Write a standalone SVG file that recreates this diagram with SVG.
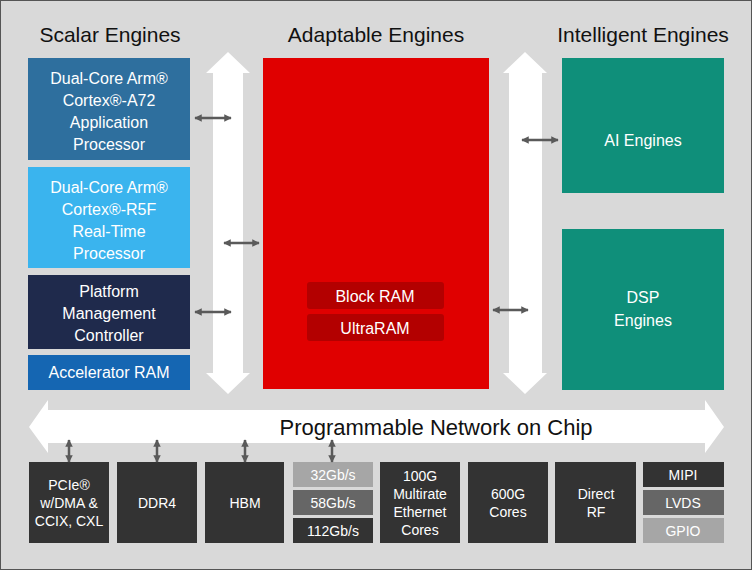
<svg xmlns="http://www.w3.org/2000/svg" width="752" height="570" viewBox="0 0 752 570">
<defs>
<marker id="ah" viewBox="0 0 10 10" refX="9" refY="5" markerWidth="3" markerHeight="3" orient="auto-start-reverse"><path d="M0,0L10,5L0,10z" fill="#5a5a5a"/></marker>
</defs>
<style>
text{font-family:"Liberation Sans",Arial,sans-serif;fill:#fff;text-anchor:middle}
.t{font-size:21px;fill:#111}
.n{font-size:16px}
.s{font-size:14px}
.c{stroke:#5a5a5a;stroke-width:2.5;fill:none;marker-start:url(#ah);marker-end:url(#ah)}
.bus{fill:#fff}
.d{fill:#333}
</style>
<rect x="0.5" y="0.5" width="751" height="569" fill="#d9d9d9" stroke="#555"/>
<text class="t" x="110" y="42">Scalar Engines</text>
<text class="t" x="376" y="42">Adaptable Engines</text>
<text class="t" x="643" y="42">Intelligent Engines</text>
<g id="buses">
<path class="bus" d="M228,52L250,73H243V373H250L228,394L206,373H213V73H206Z"/>
<path class="bus" d="M525,52L547,73H542V373H547L525,394L503,373H509V73H503Z"/>
<path class="bus" d="M29,427L48,400V410H705V400L724,427L705,453V443H48V453Z"/>
<text x="436" y="435" style="font-size:22px;fill:#111">Programmable Network on Chip</text>
</g>
<g id="a72"><rect x="28" y="58" width="162" height="102" fill="#2e6f9e"/><text class="n" x="109" y="84">Dual-Core Arm®</text><text class="n" x="109" y="106">Cortex®-A72</text><text class="n" x="109" y="128">Application</text><text class="n" x="109" y="150">Processor</text></g>
<g id="r5f"><rect x="28" y="167" width="162" height="101" fill="#3ab4ee"/><text class="n" x="109" y="193">Dual-Core Arm®</text><text class="n" x="109" y="215">Cortex®-R5F</text><text class="n" x="109" y="237">Real-Time</text><text class="n" x="109" y="259">Processor</text></g>
<g id="pmc"><rect x="28" y="275" width="162" height="74" fill="#1f2a4c"/><text class="n" x="109" y="297">Platform</text><text class="n" x="109" y="319">Management</text><text class="n" x="109" y="341">Controller</text></g>
<g id="accram"><rect x="28" y="355" width="162" height="35" fill="#1566b2"/><text class="n" x="109" y="378">Accelerator RAM</text></g>
<g id="adaptable"><rect x="263" y="58" width="226" height="331" fill="#e00000"/>
<rect x="307" y="282" width="137" height="27" rx="3" fill="#b30000"/><text class="n" x="375" y="302">Block RAM</text>
<rect x="307" y="314" width="137" height="27" rx="3" fill="#b30000"/><text class="n" x="375" y="334">UltraRAM</text></g>
<g id="ai"><rect x="562" y="58" width="162" height="135" fill="#0f8f7a"/><text class="n" x="643" y="146">AI Engines</text></g>
<g id="dsp"><rect x="562" y="229" width="162" height="161" fill="#0f8f7a"/><text class="n" x="643" y="303">DSP</text><text class="n" x="643" y="326">Engines</text></g>
<g id="io">
<rect class="d" x="29" y="462" width="80" height="81"/><text class="s" x="69" y="490">PCIe®</text><text class="s" x="69" y="508">w/DMA &amp;</text><text class="s" x="69" y="526">CCIX, CXL</text>
<rect class="d" x="117" y="462" width="80" height="81"/><text class="s" x="157" y="508">DDR4</text>
<rect class="d" x="205" y="462" width="79" height="81"/><text class="s" x="245" y="508">HBM</text>
<rect x="293" y="462" width="80" height="25" fill="#a6a6a6"/><text class="s" x="333" y="480">32Gb/s</text>
<rect x="293" y="490" width="80" height="25" fill="#666"/><text class="s" x="333" y="508">58Gb/s</text>
<rect class="d" x="293" y="518" width="80" height="25"/><text class="s" x="333" y="536">112Gb/s</text>
<rect class="d" x="380" y="462" width="80" height="81"/><text class="s" x="420" y="481">100G</text><text class="s" x="420" y="499">Multirate</text><text class="s" x="420" y="517">Ethernet</text><text class="s" x="420" y="535">Cores</text>
<rect class="d" x="468" y="462" width="80" height="81"/><text class="s" x="508" y="499">600G</text><text class="s" x="508" y="517">Cores</text>
<rect class="d" x="555" y="462" width="81" height="81"/><text class="s" x="596" y="499">Direct</text><text class="s" x="596" y="517">RF</text>
<rect class="d" x="643" y="462" width="81" height="25"/><text class="s" x="683" y="480">MIPI</text>
<rect x="643" y="490" width="81" height="25" fill="#666"/><text class="s" x="683" y="508">LVDS</text>
<rect x="643" y="518" width="81" height="25" fill="#a6a6a6"/><text class="s" x="683" y="536">GPIO</text>
</g>
<g id="connectors">
<line class="c" x1="195" y1="118" x2="231" y2="118"/>
<line class="c" x1="224" y1="243" x2="259" y2="243"/>
<line class="c" x1="195" y1="312" x2="231" y2="312"/>
<line class="c" x1="522" y1="140" x2="558" y2="140"/>
<line class="c" x1="493" y1="310" x2="528" y2="310"/>
<line class="c" x1="69" y1="440" x2="69" y2="462"/>
<line class="c" x1="157" y1="440" x2="157" y2="462"/>
<line class="c" x1="245" y1="440" x2="245" y2="462"/>
<line class="c" x1="332" y1="440" x2="332" y2="462"/>
</g>
</svg>
